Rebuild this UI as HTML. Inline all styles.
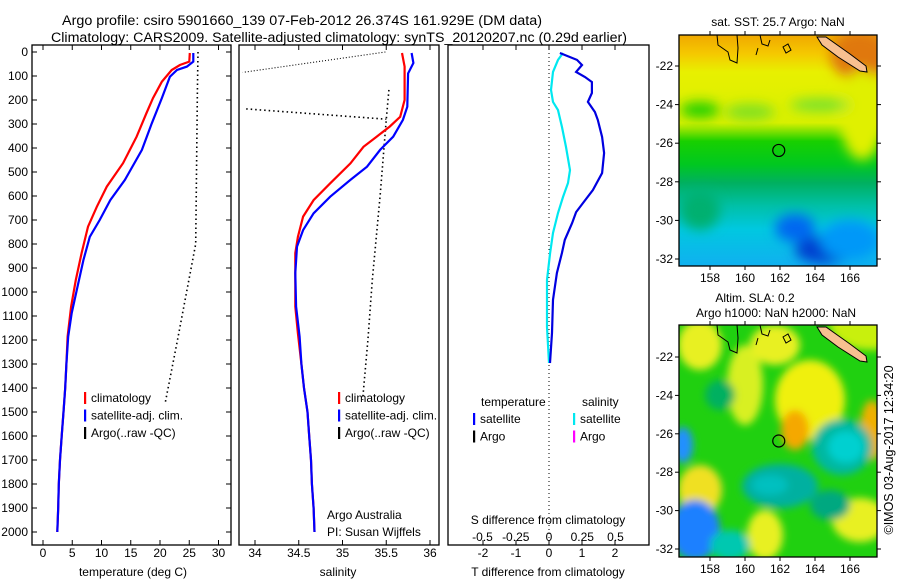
<!DOCTYPE html>
<html><head><meta charset="utf-8">
<style>
body{margin:0;background:#fff;}
svg{display:block;font-family:"Liberation Sans",sans-serif;}
</style></head>
<body>
<svg id="chart" width="900" height="580" viewBox="0 0 900 580" xmlns="http://www.w3.org/2000/svg">
<defs>
<clipPath id="c1"><rect x="32" y="45" width="199" height="500"/></clipPath>
<clipPath id="c2"><rect x="239" y="45" width="200" height="500"/></clipPath>
<clipPath id="c3"><rect x="448" y="45" width="201" height="500"/></clipPath>
<clipPath id="m1"><rect x="679" y="35" width="198" height="231"/></clipPath>
<clipPath id="m2"><rect x="679" y="325" width="198" height="232"/></clipPath>
<filter id="bl" x="-50%" y="-50%" width="200%" height="200%"><feGaussianBlur stdDeviation="6"/></filter>
<filter id="bl2" x="-50%" y="-50%" width="200%" height="200%"><feGaussianBlur stdDeviation="4"/></filter>
<linearGradient id="sstg" x1="0" y1="0" x2="0" y2="1">
<stop offset="0" stop-color="#f0a800"/><stop offset="0.08" stop-color="#f5c800"/>
<stop offset="0.16" stop-color="#e8f000"/><stop offset="0.38" stop-color="#d8f000"/>
<stop offset="0.46" stop-color="#18d000"/><stop offset="0.56" stop-color="#00c820"/>
<stop offset="0.64" stop-color="#00b060"/><stop offset="0.74" stop-color="#00c0a8"/>
<stop offset="0.84" stop-color="#00c8e0"/><stop offset="1" stop-color="#10b0f0"/>
</linearGradient>
</defs>
<text x="302" y="25" font-size="13.5" text-anchor="middle" textLength="480" lengthAdjust="spacingAndGlyphs">Argo profile: csiro 5901660_139 07-Feb-2012 26.374S 161.929E (DM data)</text>
<text x="339" y="42" font-size="13.5" text-anchor="middle" textLength="576" lengthAdjust="spacingAndGlyphs">Climatology: CARS2009. Satellite-adjusted climatology: synTS_20120207.nc (0.29d earlier)</text>
<g id="g1"></g><g id="g2"></g><g id="g3"></g><g id="gm"></g>
<text transform="translate(893,450) rotate(-90)" font-size="12.5" text-anchor="middle">©IMOS 03-Aug-2017 12:34:20</text>
</svg>
<script>
// ---- data ----
var depthTicks=[0,100,200,300,400,500,600,700,800,900,1000,1100,1200,1300,1400,1500,1600,1700,1800,1900,2000];
var tempTicks=[0,5,10,15,20,25,30];
var salTicks=[34,34.5,35,35.5,36];
var tdiffTicks=[-2,-1,0,1,2];
var sdiffTicks=[-0.5,-0.25,0,0.25,0.5];
var sdiffLabels=["-0.5","-0.25","0","0.25","0.5"];
var tClimDepth=[4,40,54,75,124,192,254,353,463,561,645,728,838,950,1061,1186,1300,1400,1500,1600,1700,1800,1900,2000];
var tClim=[25.1,25.0,23.4,22.0,20.3,18.8,17.7,16.0,13.7,10.9,9.2,7.7,6.6,5.6,4.8,4.2,4.0,3.8,3.5,3.2,2.9,2.7,2.6,2.45];
var tSatDepth=[4,40,61,75,103,193,297,408,533,617,700,770,867,978,1088,1186,1300,1400,1500,1600,1700,1800,1900,2000];
var tSat=[25.7,25.7,24.6,22.9,21.7,20.3,18.6,16.9,14.0,11.5,9.7,8.0,6.9,5.9,4.9,4.3,4.0,3.8,3.5,3.2,2.9,2.7,2.6,2.45];
var tArgoDepth=[0,160,580,800,1200,1460];
var tArgo=[26.5,26.4,26.2,26.1,23.0,20.9];
var sClimDepth=[4,61,130,200,270,311,353,395,464,547,617,686,770,838,921,1061,1172,1300,1400,1500,1600,1700,1800,1900,2000];
var sClim=[35.68,35.71,35.71,35.71,35.66,35.54,35.39,35.24,35.09,34.86,34.67,34.55,34.49,34.46,34.46,34.46,34.49,34.53,34.56,34.6,34.62,34.64,34.65,34.67,34.68];
var sSatDepth=[4,46,89,228,283,353,408,478,533,603,672,742,811,921,1061,1186,1300,1400,1500,1600,1700,1800,1900,2000];
var sSat=[35.79,35.81,35.75,35.74,35.69,35.58,35.43,35.28,35.09,34.86,34.67,34.55,34.48,34.46,34.47,34.51,34.53,34.56,34.6,34.62,34.64,34.65,34.67,34.68];
var sArgoDepthA=[0,85];
var sArgoA=[35.49,33.86];
var sArgoDepthB=[237,280];
var sArgoB=[33.9,35.5];
var sArgoDepthC=[158,280,600,950,1200,1450];
var sArgoC=[35.53,35.5,35.43,35.34,35.29,35.23];
var tDiffDepth=[4,33,54,83,104,125,171,208,250,283,354,421,504,575,629,667,713,783,838,921,1033,1171,1296];
var tDiff=[0.33,0.85,1.0,0.82,1.09,1.3,1.3,1.18,1.39,1.48,1.61,1.67,1.61,1.33,1.03,0.82,0.7,0.48,0.39,0.24,0.12,0.09,0.03];
var sDiffDepth=[4,33,83,158,208,242,313,396,492,546,604,671,754,838,950,1146,1296];
var sDiff=[0.105,0.068,0.03,0.015,0.03,0.068,0.098,0.128,0.158,0.143,0.105,0.068,0.03,0.008,-0.015,-0.015,0.0];
var lonTicks=[158,160,162,164,166];
var latTicks=[-22,-24,-26,-28,-30,-32];
var argoLon=161.929, argoLat=-26.374;

// ---- scales ----
function yD(d){return 52+d*0.24;}
function xT(t){return 43+t*5.85;}
function xS(s){return 255+(s-34)*87.5;}
function xTd(t){return 549+t*33;}
function xSd(s){return 549+s*133;}
function xLon(l){return 710+(l-158)*17.5;}
function yLat1(l){return 66+(-22-l)*19.3;}
function yLat2(l){return 357+(-22-l)*19.2;}

var NS="http://www.w3.org/2000/svg";
function mk(tag,attrs,parent){var e=document.createElementNS(NS,tag);for(var k in attrs)e.setAttribute(k,attrs[k]);parent.appendChild(e);return e;}
function txt(s,x,y,anchor,size,parent){var e=mk('text',{x:x,y:y,'text-anchor':anchor,'font-size':size},parent);e.textContent=s;return e;}
function pathD(xs,ds,fx){var p='';for(var i=0;i<xs.length;i++){p+=(i?'L':'M')+fx(xs[i]).toFixed(1)+','+yD(ds[i]).toFixed(1);}return p;}

var g1=document.getElementById('g1'),g2=document.getElementById('g2'),g3=document.getElementById('g3'),gm=document.getElementById('gm');

function frame(g,x0,x1,name){
  var r=mk('rect',{x:x0,y:45,width:x1-x0,height:500,fill:'none',stroke:'#000','stroke-width':1.3},g);
  
  
}
function xticks(g,vals,fx,labels,ly){
  for(var i=0;i<vals.length;i++){var x=fx(vals[i]);
    mk('line',{x1:x,y1:45,x2:x,y2:50,stroke:'#000'},g);
    mk('line',{x1:x,y1:545,x2:x,y2:540,stroke:'#000'},g);
    if(labels){var t=txt(labels[i],x,ly,'middle',12,g);
      
      }}
}
// panel 1
frame(g1,32,231,'temperature-panel');
for(var i=0;i<depthTicks.length;i++){var y=yD(depthTicks[i]);
  mk('line',{x1:32,y1:y,x2:37,y2:y,stroke:'#000'},g1);
  mk('line',{x1:231,y1:y,x2:226,y2:y,stroke:'#000'},g1);
  var t=txt(String(depthTicks[i]),28,y+4,'end',12,g1);
  
  }
xticks(g1,tempTicks,xT,tempTicks.map(String),557);
var at=txt('temperature (deg C)',133,576,'middle',12,g1);


var c1=mk('g',{'clip-path':'url(#c1)'},g1);
var p=mk('path',{d:pathD(tArgo,tArgoDepth,xT),fill:'none',stroke:'#000','stroke-width':1.6,'stroke-dasharray':'1.5,3'},c1);


p=mk('path',{d:pathD(tClim,tClimDepth,xT),fill:'none',stroke:'#f00','stroke-width':2.2},c1);


p=mk('path',{d:pathD(tSat,tSatDepth,xT),fill:'none',stroke:'#00f','stroke-width':2.2},c1);



function legend(g,x,y0,items,name){
  var lg=mk('g',{},g);
  
  
  for(var i=0;i<items.length;i++){var y=y0+i*17.5;
    mk('rect',{x:x,y:y-10,width:2.2,height:12,fill:items[i][1]},lg);
    txt(items[i][0],x+7,y,'start',12,lg);}
}
legend(g1,84,402,[['climatology','#f00'],['satellite-adj. clim.','#00f'],['Argo(..raw -QC)','#000']],'temperature-legend');

// panel 2
frame(g2,239,439,'salinity-panel');
xticks(g2,salTicks,xS,salTicks.map(String),557);
var as=txt('salinity',338,576,'middle',12,g2);


var c2=mk('g',{'clip-path':'url(#c2)'},g2);
[[sArgoA,sArgoDepthA,1.1,'1,2'],[sArgoB,sArgoDepthB,1.6,'1.5,3'],[sArgoC,sArgoDepthC,1.6,'1.5,3']].forEach(function(a){
  var q=mk('path',{d:pathD(a[0],a[1],xS),fill:'none',stroke:'#000','stroke-width':a[2],'stroke-dasharray':a[3]},c2);
  
  
});
p=mk('path',{d:pathD(sClim,sClimDepth,xS),fill:'none',stroke:'#f00','stroke-width':2.2},c2);


p=mk('path',{d:pathD(sSat,sSatDepth,xS),fill:'none',stroke:'#00f','stroke-width':2.2},c2);


legend(g2,338,402,[['climatology','#f00'],['satellite-adj. clim.','#00f'],['Argo(..raw -QC)','#000']],'salinity-legend');
var ct=txt('Argo Australia',327,519,'start',12,g2);


ct=txt('PI: Susan Wijffels',327,536,'start',12,g2);



// panel 3
frame(g3,448,649,'difference-panel');
xticks(g3,tdiffTicks,xTd,tdiffTicks.map(String),557);
for(var i=0;i<sdiffTicks.length;i++){var t=txt(sdiffLabels[i],xSd(sdiffTicks[i]),541,'middle',12,g3);
  
  }
var st=txt('S difference from climatology',548,524,'middle',12,g3);


st=txt('T difference from climatology',548,576,'middle',12,g3);


var c3=mk('g',{'clip-path':'url(#c3)'},g3);
var z=mk('line',{x1:xTd(0),y1:45,x2:xTd(0),y2:545,stroke:'#000','stroke-width':1,'stroke-dasharray':'1,3'},c3);


p=mk('path',{d:pathD(sDiff,sDiffDepth,xSd),fill:'none',stroke:'#00e8f0','stroke-width':2.2},c3);


p=mk('path',{d:pathD(tDiff,tDiffDepth,xTd),fill:'none',stroke:'#0000e0','stroke-width':2.2},c3);


var h=txt('temperature',481,406,'start',12,g3);
h=txt('salinity',582,406,'start',12,g3);
legend(g3,473,423,[['satellite','#00f'],['Argo','#000']],'temp-diff-legend');
legend(g3,573,423,[['satellite','#00e8f0'],['Argo','#f0f']],'sal-diff-legend');

// maps
function mapAxes(g,y0,y1,fy,ly){
  var r=mk('rect',{x:679,y:y0,width:198,height:y1-y0,fill:'none',stroke:'#000','stroke-width':1.3},g);
  for(var i=0;i<lonTicks.length;i++){var x=xLon(lonTicks[i]);
    mk('line',{x1:x,y1:y0,x2:x,y2:y0-4,stroke:'#000'},g);
    mk('line',{x1:x,y1:y1,x2:x,y2:y1+4,stroke:'#000'},g);
    var t=txt(String(lonTicks[i]),x,ly,'middle',12,g);
    
    }
  for(var i=0;i<latTicks.length;i++){var y=fy(latTicks[i]);
    mk('line',{x1:679,y1:y,x2:675,y2:y,stroke:'#000'},g);
    mk('line',{x1:877,y1:y,x2:881,y2:y,stroke:'#000'},g);
    var t=txt(String(latTicks[i]),673,y+4,'end',12,g);
    
    }
}
function land(g,dy){
  mk('path',{d:'M817,'+(37+dy)+' L826,'+(37+dy)+' L850,'+(54+dy)+' L866,'+(66+dy)+' L867,'+(72+dy)+' L860,'+(71+dy)+' L838,'+(57+dy)+' L822,'+(45+dy)+' Z',fill:'#f8c090',stroke:'#000','stroke-width':1},g);
  mk('path',{d:'M717,'+(35+dy)+' L718,'+(45+dy)+' L728,'+(52+dy)+' L730,'+(60+dy)+' L737,'+(63+dy)+' L738,'+(48+dy)+' L737,'+(35+dy),fill:'none',stroke:'#000','stroke-width':1},g);
  mk('path',{d:'M760,'+(35+dy)+' L762,'+(44+dy)+' L768,'+(46+dy)+' L770,'+(40+dy)+' M758,'+(48+dy)+' L756,'+(55+dy)+' M783,'+(47+dy)+' L788,'+(44+dy)+' L791,'+(50+dy)+' L786,'+(53+dy)+' Z',fill:'none',stroke:'#000','stroke-width':1},g);
}
var mg1=mk('g',{'clip-path':'url(#m1)'},gm);


mk('rect',{x:679,y:35,width:198,height:231,fill:'url(#sstg)'},mg1);
var blobs1=[[860,55,30,25,'#e07810'],[862,115,22,45,'#e0f000'],[700,110,20,8,'#20d000'],[750,112,25,8,'#80e020'],[820,105,30,6,'#70e030'],[795,228,20,14,'#0068f0'],[825,250,30,14,'#0040d0'],[700,210,20,20,'#00b070'],[850,240,30,20,'#0098f8']];
var fb=mk('g',{filter:'url(#bl)'},mg1);
blobs1.forEach(function(b){mk('ellipse',{cx:b[0],cy:b[1],rx:b[2],ry:b[3],fill:b[4]},fb);});
land(mg1,0);
var cc=mk('circle',{cx:xLon(argoLon),cy:yLat1(argoLat),r:6,fill:'none',stroke:'#000','stroke-width':1.2},mg1);


mapAxes(gm,35,266,yLat1,282);
var mt=txt('sat. SST: 25.7 Argo: NaN',778,26,'middle',12,gm);



var mg2=mk('g',{'clip-path':'url(#m2)'},gm);


mk('rect',{x:679,y:325,width:198,height:232,fill:'#20d010'},mg2);
var blobs2=[[700,345,22,25,'#e8f020'],[745,385,18,40,'#d8f020'],[775,345,25,20,'#e8f020'],[810,400,35,40,'#f0f010'],[795,430,14,20,'#f5a800'],[870,325,40,25,'#c8f010'],[872,430,12,30,'#f0b000'],[700,490,22,25,'#f0e020'],[765,535,18,25,'#e8f020'],[860,520,28,22,'#e8f020'],[720,395,15,15,'#00b060'],[842,447,30,28,'#00b8a0'],[846,447,18,16,'#00d0d0'],[780,486,38,22,'#00b0a0'],[770,485,18,10,'#00c0c0'],[830,505,20,15,'#00a880'],[695,530,25,30,'#1c80ff'],[683,445,10,18,'#2090ff'],[730,545,20,15,'#00c8b0']];
var fb2=mk('g',{filter:'url(#bl2)'},mg2);
blobs2.forEach(function(b){mk('ellipse',{cx:b[0],cy:b[1],rx:b[2],ry:b[3],fill:b[4]},fb2);});
land(mg2,290);
cc=mk('circle',{cx:xLon(argoLon),cy:yLat2(argoLat),r:6,fill:'none',stroke:'#000','stroke-width':1.2},mg2);


mapAxes(gm,325,557,yLat2,573);
mt=txt('Altim. SLA: 0.2',755,302,'middle',12,gm);


mt=txt('Argo h1000: NaN h2000: NaN',776,317,'middle',12,gm);


</script>
</body></html>
